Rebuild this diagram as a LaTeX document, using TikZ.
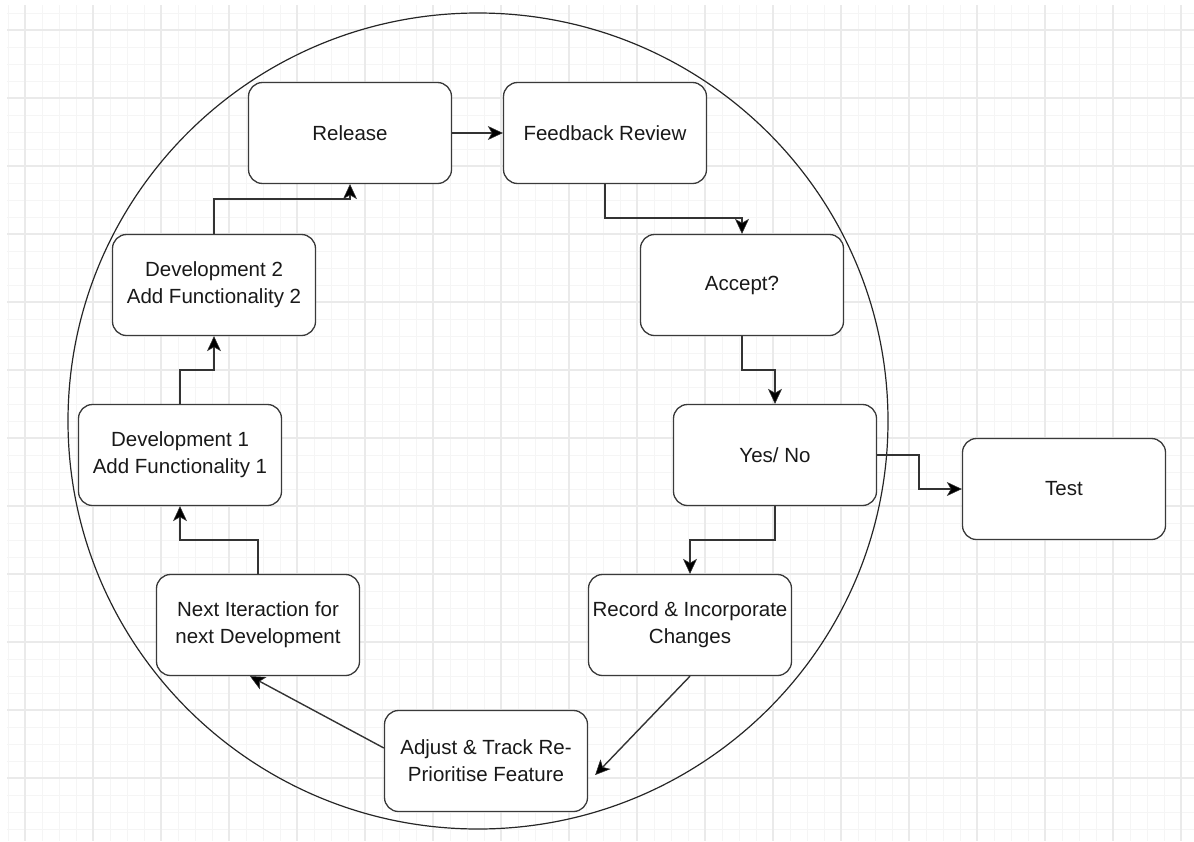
\documentclass[tikz,border=0pt]{standalone}
\usepackage{fontspec}
\setmainfont{Liberation Sans}
\usetikzlibrary{arrows.meta,calc}
\definecolor{minorc}{HTML}{F5F5F5}
\definecolor{majorc}{HTML}{EAEAEA}
\definecolor{boxc}{HTML}{3A3A3A}
\definecolor{linec}{HTML}{333333}
\tikzset{
  box/.style={draw=boxc, fill=white, line width=1.3pt, rounded corners=14pt,
    minimum width=203pt, minimum height=101pt, align=center, inner sep=2pt,
    font=\fontsize{20.5}{27}\selectfont, text=black!90},
  arr/.style={draw=linec, line width=1.4pt, -{Stealth[length=15pt,width=14pt,inset=4pt,fill=black,line width=0.5pt]}},
  minorline/.style={draw=minorc, line width=1pt},
  majorline/.style={draw=majorc, line width=1.1pt},
}
\begin{document}
\begin{tikzpicture}[x=1pt,y=-1pt]
\useasboundingbox (0,0) rectangle (1194,841);
% grid
\foreach \x in {8,25,...,1194} \draw[minorline] (\x,5) -- (\x,841);
\foreach \y in {13,30,...,841} \draw[minorline] (7,\y) -- (1194,\y);
\foreach \x in {25,93,...,1194} \draw[majorline] (\x,5) -- (\x,841);
\foreach \y in {30,98,...,841} \draw[majorline] (7,\y) -- (1194,\y);
% big circle
\draw[black!85, line width=1.2pt] (478,421) ellipse [x radius=410, y radius=408];
% nodes
\node[box] (rel)  at (350,133) {Release};
\node[box] (fb)   at (605,133) {Feedback Review};
\node[box] (acc)  at (742,285) {Accept?};
\node[box] (yes)  at (775,455) {Yes/ No};
\node[box] (test) at (1064,489) {Test};
\node[box] (rec)  at (690,625) {Record \& Incorporate\\Changes};
\node[box] (adj)  at (486,761) {Adjust \& Track Re-\\Prioritise Feature};
\node[box] (next) at (258,625) {Next Iteraction for\\next Development};
\node[box] (d1)   at (180,455) {Development 1\\Add Functionality 1};
\node[box] (d2)   at (214,285) {Development 2\\Add Functionality 2};
% connectors
\draw[arr] (rel) -- (fb);
\draw[arr] (fb.south) -- ++(0,34) -| (acc.north);
\draw[arr] (acc.south) -- ++(0,34) -| (yes.north);
\draw[arr] (yes.east) -- ++(42,0) |- (test.west);
\draw[arr] (yes.south) -- ++(0,34) -| (rec.north);
\draw[arr] (rec.south) -- ($(adj.east)+(7,14)$);
\draw[arr] ($(adj.west)+(0,-13)$) -- ($(next.south)+(-8,0)$);
\draw[arr] (next.north) -- ++(0,-34) -| (d1.south);
\draw[arr] (d1.north) -- ++(0,-34) -| (d2.south);
\draw[arr] (d2.north) -- ++(0,-35) -| (rel.south);
\end{tikzpicture}
\end{document}
